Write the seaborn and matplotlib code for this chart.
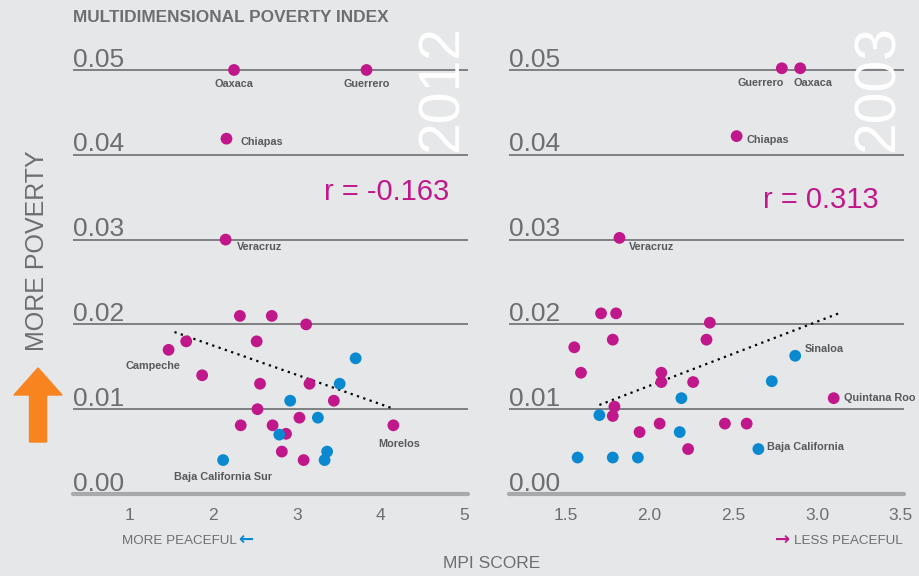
import numpy as np
import pandas as pd
import matplotlib.pyplot as plt
from matplotlib.patches import FancyArrow
import seaborn as sns

# --- data ---
# 2012 panel
mpi_2012 = [2.25, 3.83, 2.16, 2.15,
            2.32, 2.70, 3.11, 1.68, 2.52, 1.47, 1.87, 2.56, 3.15, 3.44,
            2.53, 3.03, 2.33, 2.71, 2.87, 4.15, 2.82, 3.08,
            3.70, 3.51, 2.92, 3.25, 2.79, 3.36, 3.33, 2.12]
pov_2012 = [0.0500, 0.0500, 0.0419, 0.0300,
            0.0210, 0.0210, 0.0200, 0.0180, 0.0180, 0.0170, 0.0140, 0.0130, 0.0130, 0.0110,
            0.0100, 0.0090, 0.0081, 0.0081, 0.0071, 0.0081, 0.0050, 0.0040,
            0.0160, 0.0130, 0.0110, 0.0090, 0.0070, 0.0050, 0.0040, 0.0040]
grp_2012 = ["a"] * 22 + ["b"] * 8

# 2003 panel
mpi_2003 = [2.79, 2.90, 2.52, 1.82,
            1.71, 1.80, 2.36, 1.55, 1.78, 2.34, 1.59, 2.07, 2.07, 2.26,
            3.10, 1.79, 1.78, 2.06, 2.45, 2.58, 1.94, 2.23,
            2.87, 2.73, 2.19, 1.70, 2.18, 2.65, 1.57, 1.78, 1.93]
pov_2003 = [0.0502, 0.0502, 0.0422, 0.0302,
            0.0213, 0.0213, 0.0202, 0.0173, 0.0182, 0.0182, 0.0143, 0.0143, 0.0132, 0.0132,
            0.0113, 0.0103, 0.0092, 0.0083, 0.0083, 0.0083, 0.0073, 0.0053,
            0.0163, 0.0133, 0.0113, 0.0093, 0.0073, 0.0053, 0.0043, 0.0043, 0.0043]
grp_2003 = ["a"] * 22 + ["b"] * 9

# trend line end points
trend_2012_x = [1.54, 4.14]
trend_2012_y = [0.0191, 0.0101]
trend_2003_x = [1.70, 3.13]
trend_2003_y = [0.0105, 0.0213]

r_2012 = "r = -0.163"
r_2003 = "r = 0.313"

yticks = [0.00, 0.01, 0.02, 0.03, 0.04, 0.05]
xticks_2012 = [1, 2, 3, 4, 5]
xticks_2003 = [1.5, 2.0, 2.5, 3.0, 3.5]

# labelled states: (name, x, y, dx px, dy px, ha)
labels_2012 = [("Oaxaca", 2.25, 0.0500, 0, -14, "center"),
               ("Guerrero", 3.83, 0.0500, 0, -14, "center"),
               ("Chiapas", 2.16, 0.0419, 14, -3, "left"),
               ("Veracruz", 2.15, 0.0300, 11, -7, "left"),
               ("Campeche", 1.47, 0.0170, -16, -16, "center"),
               ("Morelos", 4.15, 0.0081, 6, -19, "center"),
               ("Baja California Sur", 2.12, 0.0040, 0, -17, "center")]
labels_2003 = [("Guerrero", 2.79, 0.0502, -21, -15, "center"),
               ("Oaxaca", 2.90, 0.0502, -7, -15, "left"),
               ("Chiapas", 2.52, 0.0422, 10, -4, "left"),
               ("Veracruz", 1.82, 0.0302, 9, -9, "left"),
               ("Sinaloa", 2.87, 0.0163, 10, 7, "left"),
               ("Quintana Roo", 3.10, 0.0113, 10, 0, "left"),
               ("Baja California", 2.65, 0.0053, 9, 2, "left")]

df12 = pd.DataFrame({"mpi": mpi_2012, "pov": pov_2012, "grp": grp_2012})
df03 = pd.DataFrame({"mpi": mpi_2003, "pov": pov_2003, "grp": grp_2003})

bg = "#e6e7e8"
grey = "#6d6e71"
magenta = "#c0178a"
blue = "#0a89d1"
palette = {"a": magenta, "b": blue}

sns.set_style("white")
plt.rcParams["font.family"] = ["Liberation Sans", "DejaVu Sans"]

fig = plt.figure(figsize=(9.2, 5.76), dpi=100, facecolor=bg)
ax1 = fig.add_axes([73 / 920, 82 / 576, 395 / 920, 474.9 / 576])
ax2 = fig.add_axes([509 / 920, 82 / 576, 395 / 920, 474.9 / 576])


def panel(ax, df, xlim, xticks, xfmt, tx, ty, rtext, rpos, year, labels):
    ax.set_facecolor(bg)
    for v in yticks[1:]:
        ax.axhline(v, color="#77787b", lw=1.3, zorder=1)
    ax.axhline(0, color="#a7a9ac", lw=3, zorder=1, clip_on=False)
    ax.plot(tx, ty, color="black", lw=1.6, ls=(0, (1, 2.0)), zorder=2)
    sns.scatterplot(data=df, x="mpi", y="pov", hue="grp", palette=palette,
                    s=72, linewidth=0, legend=False, zorder=3, ax=ax)
    ax.set_xlim(*xlim)
    ax.set_ylim(0, 0.056)
    ax.set_xticks(xticks)
    ax.set_xticklabels([xfmt.format(t) for t in xticks], fontsize=12.5, color=grey)
    ax.tick_params(axis="x", length=0, pad=10)
    ax.set_yticks([])
    ax.set_xlabel("")
    ax.set_ylabel("")
    for s in ax.spines.values():
        s.set_visible(False)
    tr = ax.get_yaxis_transform()
    for v in yticks:
        ax.annotate("%.2f" % v, (0, v), xycoords=tr, xytext=(0, 2.5),
                    textcoords="offset points", ha="left", va="baseline",
                    fontsize=19, color=grey)
    ax.text(rpos[0], rpos[1], rtext, transform=ax.transAxes, ha="right",
            va="center", fontsize=21, color=magenta)
    ax.text(1.004, 0.988, year, transform=ax.transAxes, rotation=90, ha="right",
            va="top", fontsize=41, color="white")
    for name, x, y, dx, dy, ha in labels:
        ax.annotate(name, (x, y), xytext=(dx * 0.72, dy * 0.72),
                    textcoords="offset points", ha=ha, va="center",
                    fontsize=7.8, fontweight="bold", color="#58595b")


panel(ax1, df12, (0.33, 5.04), xticks_2012, "{:d}", trend_2012_x, trend_2012_y,
      r_2012, (0.953, 0.635), "2012", labels_2012)
panel(ax2, df03, (1.16, 3.52), xticks_2003, "{:.1f}", trend_2003_x, trend_2003_y,
      r_2003, (0.935, 0.62), "2003", labels_2003)

fig.text(73 / 920, 1 - 18 / 576, "MULTIDIMENSIONAL POVERTY INDEX", ha="left",
         va="center", fontsize=12.4, fontweight="bold", color=grey)
fig.text(37 / 920, 1 - 251 / 576, "MORE POVERTY", rotation=90, ha="center",
         va="center", fontsize=18, color=grey)
fig.add_artist(FancyArrow(0.38, (576 - 442) / 100, 0, 0.74, width=0.17,
                          head_width=0.48, head_length=0.27,
                          length_includes_head=True, color="#f7841f",
                          transform=fig.dpi_scale_trans))

fig.text(237 / 920, 1 - 541 / 576, "MORE PEACEFUL", ha="right", va="center",
         fontsize=9.6, color=grey)
fig.text(238 / 920, 1 - 540 / 576, "\u2190", ha="left", va="center",
         fontsize=13, fontweight="bold", color=blue, family="DejaVu Sans")
fig.text(903 / 920, 1 - 541 / 576, "LESS PEACEFUL", ha="right", va="center",
         fontsize=9.6, color=grey)
fig.text(775 / 920, 1 - 540 / 576, "\u2192", ha="left", va="center",
         fontsize=13, fontweight="bold", color=magenta, family="DejaVu Sans")
fig.text(492 / 920, 1 - 563 / 576, "MPI SCORE", ha="center", va="center",
         fontsize=12.5, color=grey)

fig.savefig("out.png", dpi=100, facecolor=bg)
